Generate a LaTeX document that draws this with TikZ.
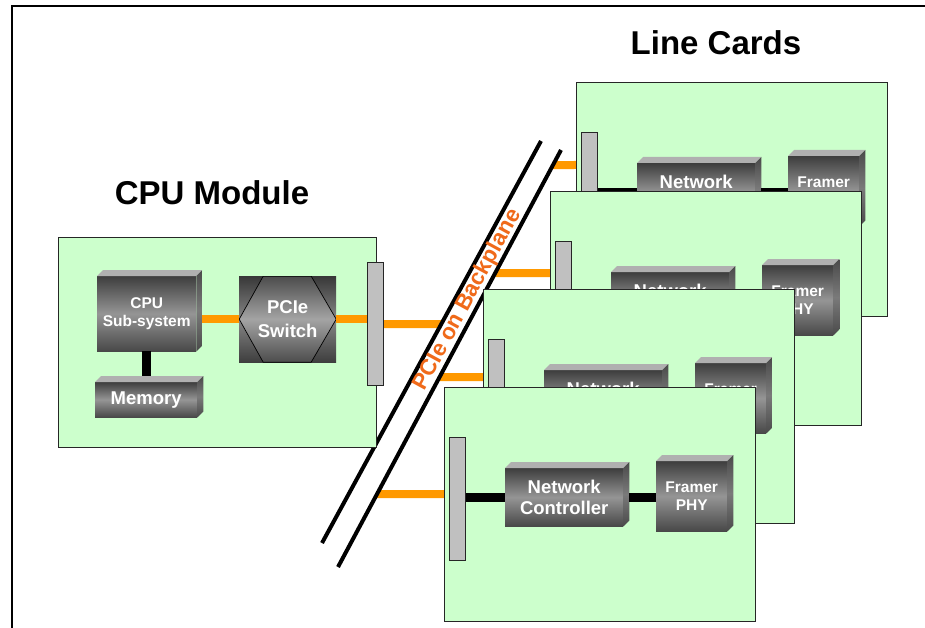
\documentclass[tikz,border=0pt]{standalone}
\usepackage{fontspec}
\setmainfont{Liberation Sans}
\usetikzlibrary{calc}

\definecolor{boardgreen}{HTML}{CCFFCC}
\definecolor{pcieorange}{HTML}{FF9900}
\definecolor{labelorange}{HTML}{F06A1A}
\definecolor{slotgray}{HTML}{C0C0C0}
\definecolor{chipdark}{HTML}{3E3E3E}
\definecolor{chipbottom}{HTML}{484848}
\definecolor{chiplight}{HTML}{959595}
\definecolor{chiptop}{HTML}{B0B0B0}
\definecolor{chipsidemid}{HTML}{7A7A7A}
\definecolor{chipsidedark}{HTML}{4A4A4A}
\definecolor{hexdark}{HTML}{4C4C4C}
\definecolor{hexlight}{HTML}{A4A4A4}

\pgfdeclarelayer{paper}
\pgfdeclarelayer{stubs}
\pgfdeclarelayer{rails}
\pgfsetlayers{paper,stubs,rails,main}

\newcommand\chipfont[2]{\bfseries\fontsize{#1}{#2}\selectfont}

% top and right faces of a bevelled chip
\newcommand\chipsides[2]{%
  \fill[chiptopface] (#1.north west) -- ++(#2,-#2)
    -- ($(#1.north east)+(#2,-#2)$) -- (#1.north east) -- cycle;
  \shade[chipsideface] (#1.north east) -- ($(#1.north east)+(#2,-#2)$)
    -- ($(#1.south east)+(#2,-#2)$) -- (#1.south east) -- cycle;
}

\tikzset{
  board/.style={draw=black!85, line width=1.4pt, fill=boardgreen, inner sep=0pt, anchor=north west},
  slot/.style={draw=black!85, line width=1.2pt, fill=slotgray, inner sep=0pt,
    minimum width=16pt, minimum height=123pt, anchor=north west},
  chip/.style={shading=axis, top color=chipdark, bottom color=chipbottom, middle color=chiplight,
    inner sep=0pt, anchor=north west, text=white, align=center},
  chiptopface/.style={fill=chiptop},
  chipsideface/.style={shading=axis, top color=chipsidedark, bottom color=chipsidedark, middle color=chipsidemid},
  switchbox/.style={chip, top color=chipdark!90!black, bottom color=chipdark, middle color=chiplight!90!black,
    path picture={
      \path[draw=black, line width=0.7pt, shading=axis, top color=hexdark, bottom color=hexdark, middle color=hexlight]
        (path picture bounding box.west)
        -- ([xshift=24pt]path picture bounding box.north west)
        -- ([xshift=-25pt]path picture bounding box.north east)
        -- (path picture bounding box.east)
        -- ([xshift=-25pt]path picture bounding box.south east)
        -- ([xshift=24pt]path picture bounding box.south west) -- cycle;}},
  pcie/.style={draw=pcieorange, line width=8pt},
  localbus/.style={draw=black, line width=9pt},
  backplane/.style={draw=black, line width=4pt},
  title/.style={font=\chipfont{33}{36}},
}

% one line card: id, left, top, height of the backplane link
\newcommand\linecard[4]{%
  \begin{scope}[shift={(#2,#3)}]
    \coordinate (in#1) at (0,#4);
    \coordinate (far#1) at (-200,#4);
    \node[board, minimum width=311pt, minimum height=234pt] (card#1) at (0,0) {};
    \node[slot] (slot#1) at (5,50) {};
    \node[chip, minimum width=118pt, minimum height=58pt, font=\chipfont{18.5}{21}] (nc#1) at (61,81) {Network\\Controller};
    \node[chip, minimum width=71pt, minimum height=70pt, font=\chipfont{15.5}{18}] (phy#1) at (212,74) {Framer\\PHY};
  \end{scope}
  \chipsides{nc#1}{6}
  \chipsides{phy#1}{6}
  \draw[localbus] (nc#1.west -| slot#1.east) -- (nc#1.west);
  \draw[localbus] ($(nc#1.east)+(6,0)$) -- (nc#1.east -| phy#1.west);
  \begin{pgfonlayer}{stubs}
    \draw[pcie] (intersection of bp2a--bp2b and far#1--in#1) -- (in#1);
  \end{pgfonlayer}
}

\begin{document}
\begin{tikzpicture}[x=1pt,y=-1pt]
\useasboundingbox (0,0) rectangle (925,628);
\begin{pgfonlayer}{paper}
  \fill[white] (0,0) rectangle (925,628);
\end{pgfonlayer}

% backplane rails
\coordinate (bp1a) at (322,543);
\coordinate (bp1b) at (541,141);
\coordinate (bp2a) at (338,567);
\coordinate (bp2b) at (561,150);
\begin{pgfonlayer}{rails}
  \draw[backplane] (bp1a) -- (bp1b);
  \draw[backplane] (bp2a) -- (bp2b);
\end{pgfonlayer}

% CPU module
\node[title] (cputitle) at (212,193) {CPU Module};
\node[board, minimum width=318pt, minimum height=210pt] (cpumod) at (58,237) {};
\node[slot] (cslot) at (367,262) {};
\node[chip, minimum width=99pt, minimum height=75pt, font=\chipfont{15.5}{18}] (cpu) at (97,276) {CPU\\Sub-system};
\chipsides{cpu}{6}
\node[chip, minimum width=102pt, minimum height=35pt, font=\chipfont{18.5}{21}] (mem) at (95,382) {Memory};
\chipsides{mem}{6}
\node[switchbox, minimum width=97pt, minimum height=86pt, font=\chipfont{18.5}{24}] (switch) at (239,276) {PCIe\\Switch};
\draw[localbus] (cpu.south) -- ($(cpu.south |- mem.north)+(0,-6)$);
\draw[pcie] ($(cpu.east |- switch.west)+(6,0)$) -- (switch.west);
\draw[pcie] (switch.east) -- (switch.east -| cslot.west);
\coordinate (cpuin) at (cslot.east);
\coordinate (cpuout) at (cslot.east -| bp1b);
\begin{pgfonlayer}{stubs}
  \draw[pcie] (cpuin) -- (intersection of bp1a--bp1b and cpuin--cpuout);
\end{pgfonlayer}

% line cards, back to front
\node[title] (lctitle) at (716,43) {Line Cards};
\linecard{A}{576}{82}{83}
\linecard{B}{550}{191}{82}
\linecard{C}{483}{289}{88}
\linecard{D}{444}{387}{107}

\node[rotate=61.4, text=labelorange, font=\chipfont{22.5}{22.5}] (bplabel) at (467.5,300) {PCIe on Backplane};

% page frame
\draw[line width=2pt] (12,628) -- (12,6) -- (925,6);
\end{tikzpicture}
\end{document}
